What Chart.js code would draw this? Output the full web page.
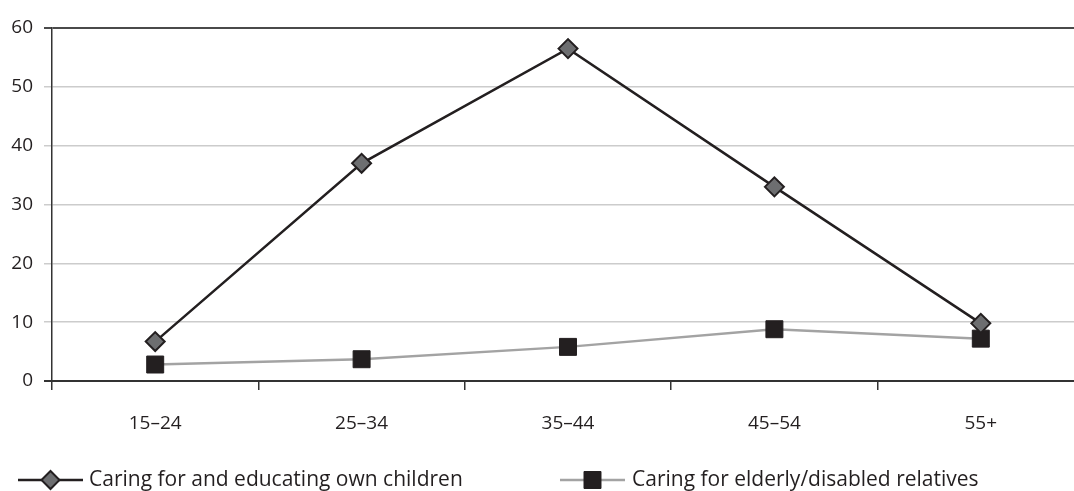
<!DOCTYPE html>
<html><head><meta charset="utf-8">
<script src="https://cdn.jsdelivr.net/npm/chart.js@4/dist/chart.umd.min.js"></script>
<style>
html,body{margin:0;padding:0;background:#fff;overflow:hidden}
#wrap{width:1074px;height:491px;overflow:hidden;position:relative}
#box{width:1100px;height:491px;position:absolute;left:0;top:0}
</style></head><body>
<div id="wrap"><div id="box"><canvas id="c"></canvas></div></div>
<script>
const categories = ['15–24', '25–34', '35–44', '45–54', '55+'];
const ownChildren = [6.7, 37, 56.5, 33, 9.8];
const elderlyRelatives = [2.8, 3.7, 5.8, 8.8, 7.2];
const yTickValues = [0, 10, 20, 30, 40, 50, 60];
const seriesNames = ['Caring for and educating own children', 'Caring for elderly/disabled relatives'];

const FONT = '"Open Sans", "Noto Sans", sans-serif';
const INK = '#231f20';

const legendPlugin = {
  id: 'lineLegend',
  afterDraw(chart) {
    const ctx = chart.ctx;
    const h = Chart.helpers;
    const y = 480;
    const items = [
      {x0: 18, x1: 83, line: INK, style: 'rectRot', radius: 9, fill: '#6d6e70', border: INK, bw: 2, text: seriesNames[0], tx: 89},
      {x0: 560, x1: 625, line: '#a3a3a3', style: 'rect', radius: 12, fill: INK, border: INK, bw: 1, text: seriesNames[1], tx: 632}
    ];
    ctx.save();
    for (const it of items) {
      ctx.beginPath();
      ctx.strokeStyle = it.line;
      ctx.lineWidth = 2.5;
      ctx.moveTo(it.x0, y);
      ctx.lineTo(it.x1, y);
      ctx.stroke();
      ctx.fillStyle = it.fill;
      ctx.strokeStyle = it.border;
      ctx.lineWidth = it.bw;
      h.drawPoint(ctx, {pointStyle: it.style, radius: it.radius, borderWidth: it.bw, rotation: 0}, (it.x0 + it.x1) / 2, y);
      ctx.fillStyle = INK;
      ctx.font = '21px ' + FONT;
      ctx.textBaseline = 'middle';
      ctx.textAlign = 'left';
      ctx.fillText(it.text, it.tx, y);
    }
    ctx.restore();
  }
};

new Chart(document.getElementById('c'), {
  type: 'line',
  data: {
    labels: categories,
    datasets: [
      {
        label: seriesNames[1],
        data: elderlyRelatives,
        borderColor: '#a3a3a3',
        borderWidth: 2.5,
        pointStyle: 'rect',
        pointRadius: 12,
        pointBackgroundColor: INK,
        pointBorderColor: INK,
        pointBorderWidth: 1,
        tension: 0,
        order: 2
      },
      {
        label: seriesNames[0],
        data: ownChildren,
        borderColor: INK,
        borderWidth: 2.5,
        pointStyle: 'rectRot',
        pointRadius: 9.5,
        pointBackgroundColor: '#6d6e70',
        pointBorderColor: INK,
        pointBorderWidth: 2,
        tension: 0,
        order: 1
      }
    ]
  },
  options: {
    responsive: true,
    maintainAspectRatio: false,
    animation: false,
    events: [],
    layout: {padding: {left: 0, top: 28, right: 16, bottom: 60}},
    plugins: {legend: {display: false}, tooltip: {enabled: false}},
    scales: {
      x: {
        type: 'category',
        offset: true,
        afterFit(s) { s.height = 50; },
        grid: {drawOnChartArea: false, offset: true, tickLength: 9, color: '#333', lineWidth: 1.5},
        border: {display: true, color: '#333', width: 2},
        ticks: {color: INK, font: {family: FONT, size: 19}, padding: 22, maxRotation: 0}
      },
      y: {
        min: 0,
        max: 60,
        afterFit(s) { s.width = 52; },
        afterBuildTicks(s) { s.ticks = yTickValues.map(v => ({value: v})); },
        grid: {
          tickLength: 8,
          color: c => (c.tick && c.tick.value === 60) ? '#4a4a4a' : (c.tick && c.tick.value === 0 ? '#333' : '#cccccc'),
          lineWidth: c => (c.tick && (c.tick.value === 60 || c.tick.value === 0)) ? 2 : 1.5
        },
        border: {display: true, color: '#333', width: 1.5},
        ticks: {color: INK, font: {family: FONT, size: 19}, padding: 11}
      }
    }
  },
  plugins: [legendPlugin]
});
</script>
</body></html>
